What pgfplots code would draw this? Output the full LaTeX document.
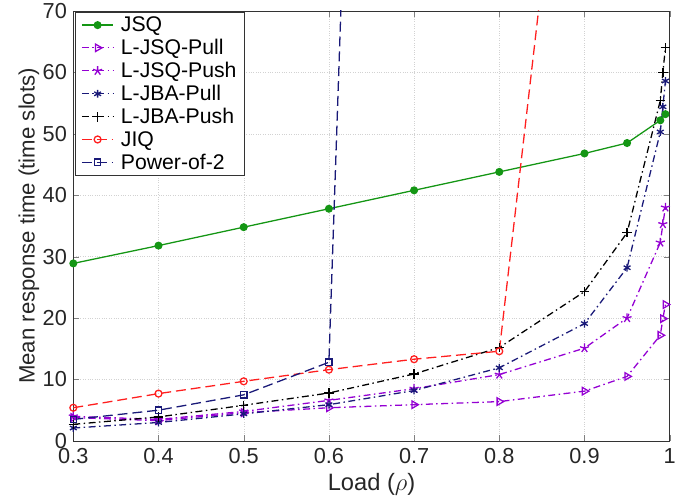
\documentclass[border=0pt]{standalone}
\usepackage{fontspec}
\setmainfont{Liberation Sans}
\usepackage{pgfplots}
\pgfplotsset{compat=1.18}
\definecolor{jsqgreen}{RGB}{20,150,20}
\definecolor{lpurple}{RGB}{148,0,211}
\definecolor{navy}{RGB}{25,25,120}
\definecolor{jiqred}{RGB}{255,30,30}

\begin{document}
\begin{tikzpicture}
\begin{axis}[
  name=ax,
  scale only axis,
  width=602bp, height=434bp,
  xmin=0.3, xmax=1, ymin=0, ymax=70,
  xtick={0.3,0.4,0.5,0.6,0.7,0.8,0.9,1},
  xticklabels={0.3,0.4,0.5,0.6,0.7,0.8,0.9,1},
  ytick={0,10,...,70},
  tick align=inside,
  major tick length=6bp,
  xmajorgrids, ymajorgrids,
  grid style={dotted, gray!35},
  axis line style={black!80},
  /pgf/number format/assume math mode=true,
  ticklabel style={font=\fontsize{22}{26}\selectfont, text=black!85},
  xticklabel style={yshift=-4bp},
  yticklabel style={xshift=-3bp},
  xlabel={Load ($\rho$)},
  ylabel={Mean response time (time slots)},
  xlabel style={font=\fontsize{24}{28}\selectfont, text=black!85, inner sep=0pt,
    at={(axis description cs:0.5,-0.074)}, anchor=north},
  ylabel style={font=\fontsize{22.5}{26}\selectfont, text=black!85, inner sep=0pt,
    at={(axis description cs:-0.057,0.5)}, anchor=south},
  legend cell align=left,
  legend style={at={(0.003,0.998)}, anchor=north west, draw=black!80,
    font=\fontsize{21.5}{25}\selectfont, row sep=2.2bp, column sep=5bp,
    inner xsep=6bp, inner ysep=3bp},
  legend image code/.code={\draw[mark repeat=2,mark phase=2] plot coordinates {(0cm,0cm) (0.56cm,0cm) (1.12cm,0cm)};},
  every axis plot/.append style={line width=1.3pt},
  dd/.style={dash pattern=on 7bp off 3.5bp on 1.5bp off 3.5bp},
  ld/.style={dash pattern=on 10bp off 5bp},
]
\addplot[jsqgreen, solid, mark=*, mark size=3.4pt] coordinates {
  (0.3,28.9) (0.4,31.8) (0.5,34.8) (0.6,37.8) (0.7,40.8) (0.8,43.8)
  (0.9,46.8) (0.95,48.5) (0.989,52.2) (0.995,53.2)
};
\addlegendentry{JSQ}
\addplot[lpurple, dd, mark=triangle, mark options={solid, rotate=-90}, mark size=4.4pt] coordinates {
  (0.3,3.8) (0.4,3.3) (0.5,4.6) (0.6,5.4) (0.7,5.9) (0.8,6.4)
  (0.9,8.1) (0.95,10.5) (0.989,17.2) (0.992,19.9) (0.995,22.2)
};
\addlegendentry{L-JSQ-Pull}
\addplot[lpurple, dd, mark=star, mark options={solid, fill=lpurple}, mark size=4.8pt] coordinates {
  (0.3,4.0) (0.4,3.5) (0.5,4.8) (0.6,6.6) (0.7,8.5) (0.8,10.8)
  (0.9,15.1) (0.95,20.0) (0.989,32.3) (0.992,35.3) (0.995,38.0)
};
\addlegendentry{L-JSQ-Push}
\addplot[navy, dd, mark=asterisk, mark options={solid}, mark size=4pt] coordinates {
  (0.3,2.1) (0.4,3.0) (0.5,4.4) (0.6,5.9) (0.7,8.2) (0.8,11.9)
  (0.9,19.1) (0.95,28.2) (0.989,50.3) (0.992,54.4) (0.995,58.6)
};
\addlegendentry{L-JBA-Pull}
\addplot[black, dd, mark=+, mark options={solid}, mark size=4.8pt] coordinates {
  (0.3,2.7) (0.4,3.9) (0.5,5.8) (0.6,7.8) (0.7,10.9) (0.8,15.2)
  (0.9,24.3) (0.95,33.9) (0.989,55.4) (0.992,60.0) (0.995,64.0)
};
\addlegendentry{L-JBA-Push}
\addplot[jiqred, ld, mark=o, mark options={solid}, mark size=3.5pt] coordinates {
  (0.3,5.4) (0.4,7.7) (0.5,9.7) (0.6,11.6) (0.7,13.3) (0.8,14.6) (0.9,135)
};
\addlegendentry{JIQ}
\addplot[navy, ld, mark=square, mark options={solid}, mark size=3.2pt] coordinates {
  (0.3,3.5) (0.4,5.0) (0.5,7.5) (0.6,12.8) (0.7,421)
};
\addlegendentry{Power-of-2}
\end{axis}
\path (ax.south west) ++(-74bp,-63bp) coordinate (bbsw);
\path (ax.north east) ++(3bp,9bp) coordinate (bbne);
\end{tikzpicture}
\end{document}
